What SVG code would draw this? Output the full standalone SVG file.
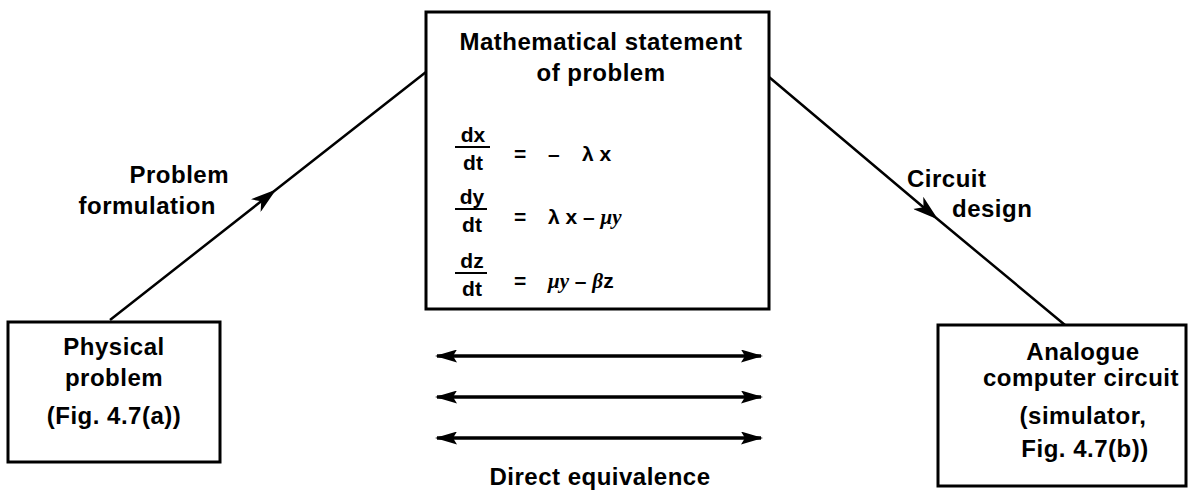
<svg xmlns="http://www.w3.org/2000/svg" width="1188" height="494" viewBox="0 0 1188 494">
<style>
text{font-family:"Liberation Sans","DejaVu Sans",sans-serif;font-weight:bold;fill:#000}
.t{font-size:24px;letter-spacing:0.5px}
.c{text-anchor:middle}
.r{text-anchor:end}
.e{font-size:21px}
.box{fill:#fff;stroke:#000;stroke-width:3}
.conn{fill:none;stroke:#000;stroke-width:2.5}
.dbl{fill:none;stroke:#000;stroke-width:3.5}
.bar{stroke:#000;stroke-width:2}
.it{font-style:italic;font-family:"Liberation Serif","DejaVu Serif",serif}
</style>
<defs>
<marker id="ah" viewBox="0 0 26 16" refX="22" refY="8" markerWidth="26" markerHeight="16" markerUnits="userSpaceOnUse" orient="auto">
<path d="M0 0 L26 8 L0 16 L7 8 Z" fill="#000"/>
</marker>
<marker id="dh" viewBox="0 0 22 13" refX="20" refY="6.5" markerWidth="22" markerHeight="13" markerUnits="userSpaceOnUse" orient="auto-start-reverse">
<path d="M0 0 L22 6.5 L0 13 L4 6.5 Z" fill="#000"/>
</marker>
</defs>
<g id="connectors">
<path class="conn" d="M110 320 L273 192 L426 72" marker-mid="url(#ah)"/>
<path class="conn" d="M769 77 L935 217 L1065 325" marker-mid="url(#ah)"/>
<path class="dbl" d="M437 356 L761 356" marker-start="url(#dh)" marker-end="url(#dh)"/>
<path class="dbl" d="M437 397 L761 397" marker-start="url(#dh)" marker-end="url(#dh)"/>
<path class="dbl" d="M437 438 L761 438" marker-start="url(#dh)" marker-end="url(#dh)"/>
</g>
<g id="label-formulation">
<text class="t r" x="229" y="183">Problem</text>
<text class="t r" x="216" y="214">formulation</text>
</g>
<g id="label-design">
<text class="t" x="907" y="187">Circuit</text>
<text class="t" x="952" y="217">design</text>
</g>
<g id="label-equivalence">
<text class="t c" x="600" y="485">Direct equivalence</text>
</g>
<g id="node-math">
<rect class="box" x="426" y="12" width="343" height="297"/>
<text class="t c" x="601" y="50">Mathematical statement</text>
<text class="t c" x="601" y="81">of problem</text>
<g class="e">
<text x="473" y="142" text-anchor="middle">dx</text>
<line class="bar" x1="455" y1="147" x2="490" y2="147"/>
<text x="473" y="170" text-anchor="middle">dt</text>
<text x="514" y="161">=</text>
<text x="548" y="161">–</text>
<text x="582" y="161">λ x</text>

<text x="472" y="204" text-anchor="middle">dy</text>
<line class="bar" x1="455" y1="209" x2="487" y2="209"/>
<text x="472" y="232" text-anchor="middle">dt</text>
<text x="514" y="224">=</text>
<text x="548" y="224">λ x – <tspan class="it">μy</tspan></text>

<text x="472" y="268" text-anchor="middle">dz</text>
<line class="bar" x1="455" y1="273" x2="487" y2="273"/>
<text x="472" y="296" text-anchor="middle">dt</text>
<text x="514" y="288">=</text>
<text x="548" y="288"><tspan class="it">μy</tspan> – <tspan class="it">β</tspan>z</text>
</g>
</g>
<g id="node-physical">
<rect class="box" x="8" y="322" width="212" height="140"/>
<text class="t c" x="114" y="355">Physical</text>
<text class="t c" x="114" y="386">problem</text>
<text class="t c" x="114" y="424">(Fig. 4.7(a))</text>
</g>
<g id="node-analogue">
<rect class="box" x="938" y="325" width="248" height="161"/>
<text class="t c" x="1083" y="360">Analogue</text>
<text class="t c" x="1081" y="386">computer circuit</text>
<text class="t c" x="1083" y="424">(simulator,</text>
<text class="t c" x="1085" y="457">Fig. 4.7(b))</text>
</g>
</svg>
